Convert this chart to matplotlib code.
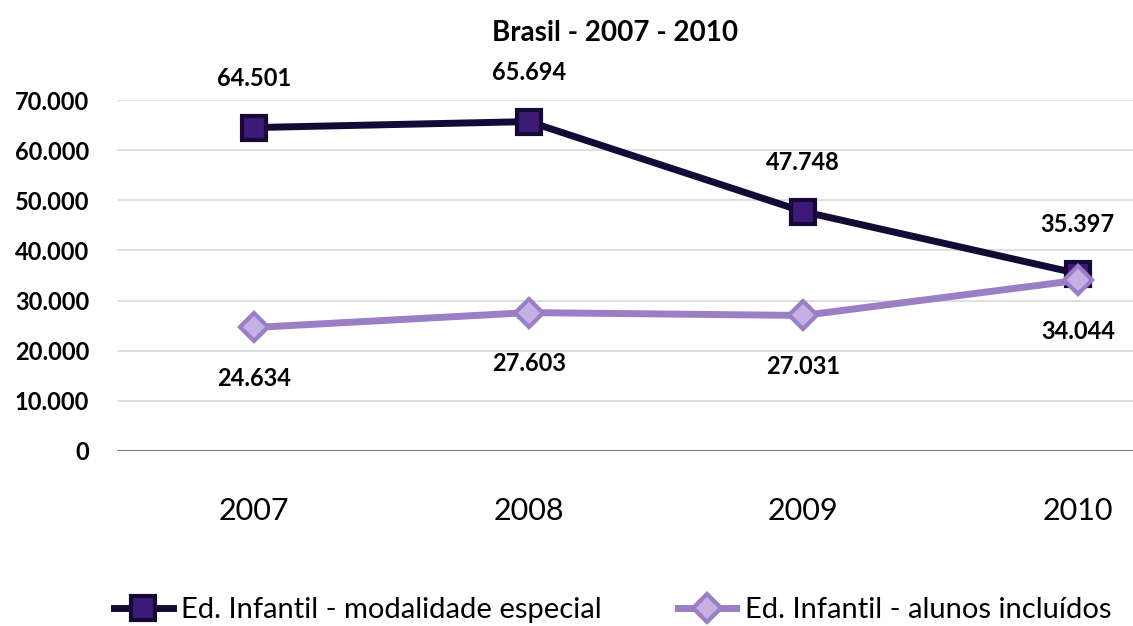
import matplotlib
matplotlib.use('Agg')
import matplotlib.pyplot as plt
from matplotlib.ticker import FuncFormatter

plt.rcParams['font.family'] = ['Lato', 'DejaVu Sans']

years = ['2007', '2008', '2009', '2010']
especial = [64501, 65694, 47748, 35397]
incluidos = [24634, 27603, 27031, 34044]
yticks = [0, 10000, 20000, 30000, 40000, 50000, 60000, 70000]


def fmt(v):
    return '{:,.0f}'.format(v).replace(',', '.')


fig = plt.figure(figsize=(11.33, 6.26), dpi=100)
# the plot area runs past the right edge, like in the original crop
ax = fig.add_axes([117 / 1133, 175 / 626, 1098 / 1133, 351 / 626])

x = range(len(years))
ax.plot(x, especial, color='#140a35', lw=5, marker='s', ms=17,
        mfc='#3e1a78', mec='#140a35', mew=3, zorder=4,
        label='Ed. Infantil - modalidade especial')
ax.plot(x, incluidos, color='#9b7fc4', lw=5, marker='D', ms=14,
        mfc='#c5b0e4', mec='#9b7fc4', mew=3, zorder=5,
        label='Ed. Infantil - alunos incluídos')

for i, v in enumerate(especial):
    ax.annotate(fmt(v), (i, v), xytext=(0, 35), textcoords='offset points',
                ha='center', va='center', fontsize=17, fontweight='bold')
for i, v in enumerate(incluidos):
    ax.annotate(fmt(v), (i, v), xytext=(0, -37), textcoords='offset points',
                ha='center', va='center', fontsize=17, fontweight='bold')

ax.set_xlim(-0.5, 3.5)
ax.set_ylim(0, 70000)
ax.set_yticks(yticks)
ax.yaxis.set_major_formatter(FuncFormatter(lambda v, p: fmt(v)))
ax.set_xticks(list(x))
ax.set_xticklabels(years, fontsize=22)
for lab in ax.get_yticklabels():
    lab.set_fontsize(17)
    lab.set_fontweight('bold')
ax.tick_params(axis='y', length=0, pad=20)
ax.tick_params(axis='x', length=0, pad=33)
ax.grid(axis='y', color='#d9d9d9', lw=1.2)
ax.axhline(0, color='#808080', lw=1.5)
for s in ax.spines.values():
    s.set_visible(False)

fig.text(615 / 1133, 1 - 33 / 626, 'Brasil - 2007 - 2010', ha='center',
         va='center', fontsize=20, fontweight='bold')

fig.legend(loc='center left', bbox_to_anchor=(88 / 1133, 1 - 610 / 626),
           ncol=2, frameon=False, fontsize=21, handlelength=2.0,
           columnspacing=2.6, handletextpad=0.3)

fig.savefig('out.png', dpi=100)
